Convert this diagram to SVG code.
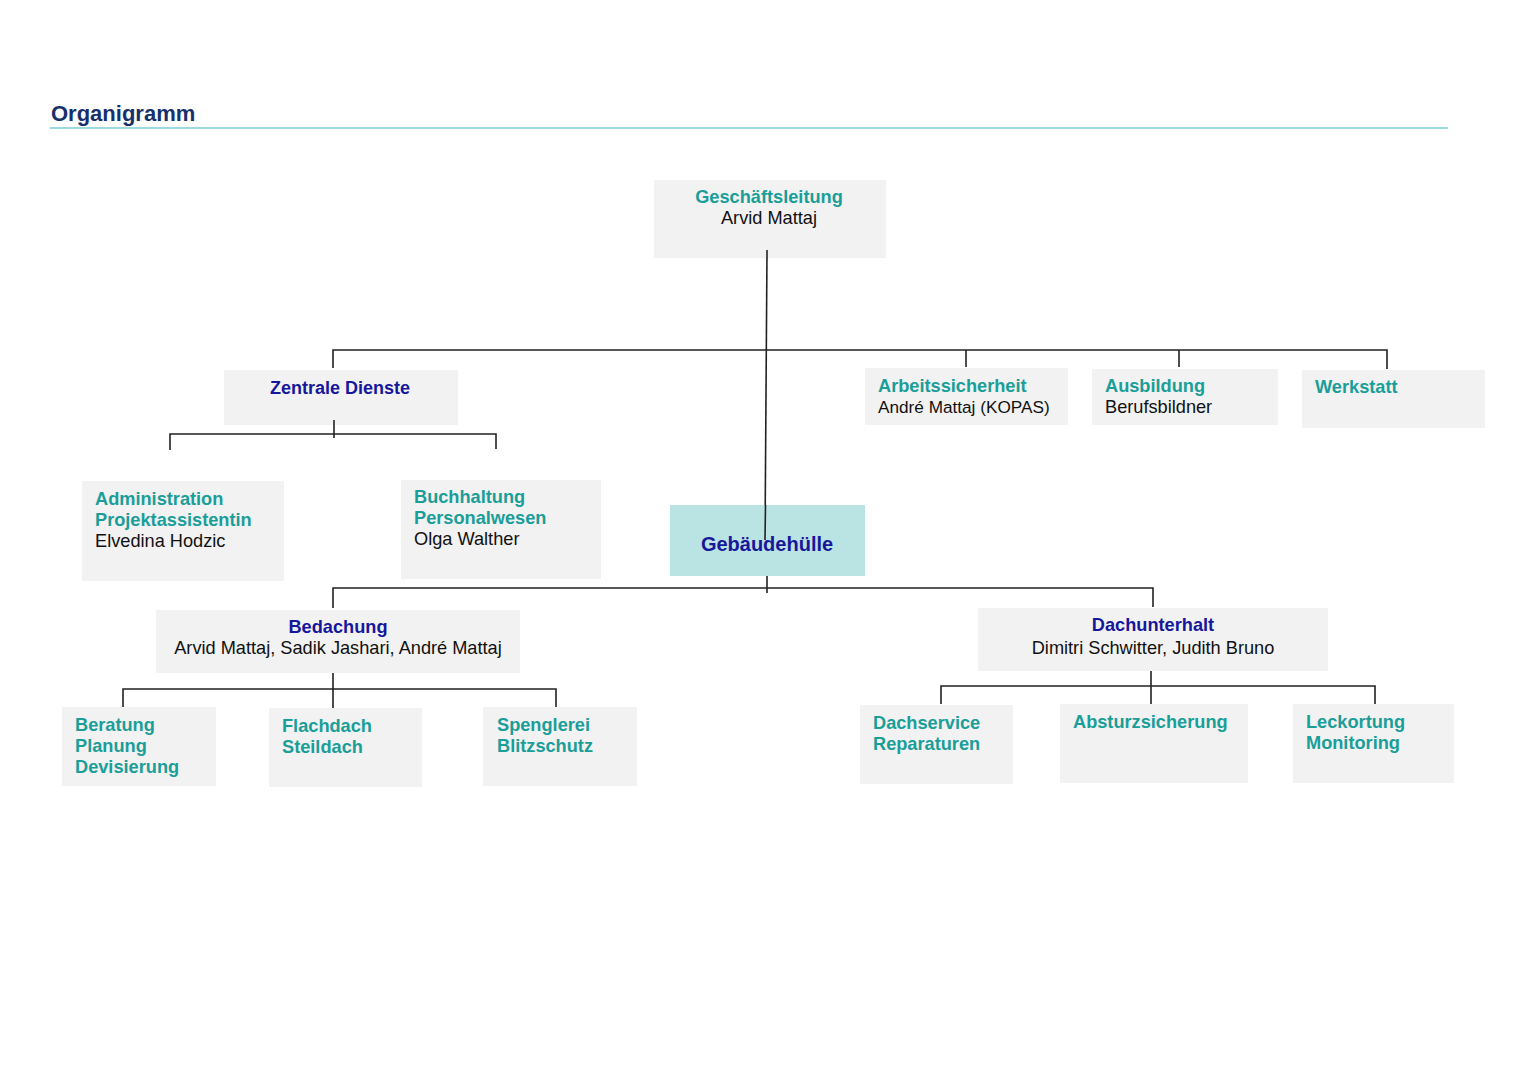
<svg xmlns="http://www.w3.org/2000/svg" width="1536" height="1085" viewBox="0 0 1536 1085">
<style>
text{font-family:"Liberation Sans",Arial,sans-serif;font-size:18.2px}
.box{fill:#f2f2f2}
.hl{fill:#bae3e3}
.t{fill:#1a9e99;font-weight:bold}
.n{fill:#17179c;font-weight:bold}
.p{fill:#111}
.c{text-anchor:middle}
.con{stroke:#222;stroke-width:1.6;fill:none}
</style>
<rect width="1536" height="1085" fill="#fff"/>
<text x="51" y="121" style="font-size:22px;font-weight:bold;fill:#17306b">Organigramm</text>
<line x1="50" y1="128" x2="1448" y2="128" stroke="#3bb3b6" stroke-width="1.2"/>

<g id="connectors" class="con">
<path d="M767 250 L765 540"/>
<path d="M333 368 V350 H1387 V369"/>
<path d="M966 350 V367 M1179 350 V367"/>
<path d="M334 420 V438 M170 450 V434 H496 V449"/>
<path d="M767 575 V593 M333 608 V588 H1153 V607"/>
<path d="M333 667 V708 M123 707 V689 H556 V707"/>
<path d="M1151 667 V705 M941 704 V686 H1375 V704"/>
</g>

<g id="geschaeftsleitung"><rect class="box" x="654" y="180" width="232" height="78"/>
<path class="con" d="M767 250 V258"/>
<text class="t c" x="769" y="203">Geschäftsleitung</text><text class="p c" x="769" y="224">Arvid Mattaj</text></g>

<g id="zentrale-dienste"><rect class="box" x="224" y="370" width="234" height="55"/>
<path class="con" d="M334 420 V425"/>
<text class="n c" x="340" y="394" style="font-size:18px">Zentrale Dienste</text></g>

<g id="arbeitssicherheit"><rect class="box" x="865" y="368" width="203" height="57"/>
<text class="t" x="878" y="392">Arbeitssicherheit</text><text class="p" x="878" y="413" style="font-size:17.2px">André Mattaj (KOPAS)</text></g>

<g id="ausbildung"><rect class="box" x="1092" y="369" width="186" height="56"/>
<text class="t" x="1105" y="392">Ausbildung</text><text class="p" x="1105" y="413">Berufsbildner</text></g>

<g id="werkstatt"><rect class="box" x="1302" y="370" width="183" height="58"/>
<text class="t" x="1315" y="393">Werkstatt</text></g>

<g id="administration"><rect class="box" x="82" y="481" width="202" height="100"/>
<text class="t" x="95" y="505">Administration</text><text class="t" x="95" y="526">Projektassistentin</text><text class="p" x="95" y="547">Elvedina Hodzic</text></g>

<g id="buchhaltung"><rect class="box" x="401" y="480" width="200" height="99"/>
<text class="t" x="414" y="503">Buchhaltung</text><text class="t" x="414" y="524">Personalwesen</text><text class="p" x="414" y="545">Olga Walther</text></g>

<g id="gebaeudehuelle"><rect class="hl" x="670" y="505" width="195" height="71"/>
<path class="con" d="M765.5 505 L765 540"/>
<text class="n c" x="767" y="551" style="font-size:20px">Gebäudehülle</text></g>

<g id="bedachung"><rect class="box" x="156" y="610" width="364" height="63"/>
<text class="n c" x="338" y="633">Bedachung</text><text class="p c" x="338" y="654">Arvid Mattaj, Sadik Jashari, André Mattaj</text></g>

<g id="dachunterhalt"><rect class="box" x="978" y="608" width="350" height="63"/>
<text class="n c" x="1153" y="631">Dachunterhalt</text><text class="p c" x="1153" y="654">Dimitri Schwitter, Judith Bruno</text></g>

<g id="beratung"><rect class="box" x="62" y="707" width="154" height="79"/>
<text class="t" x="75" y="731">Beratung</text><text class="t" x="75" y="752">Planung</text><text class="t" x="75" y="773">Devisierung</text></g>

<g id="flachdach"><rect class="box" x="269" y="708" width="153" height="79"/>
<text class="t" x="282" y="732">Flachdach</text><text class="t" x="282" y="753">Steildach</text></g>

<g id="spenglerei"><rect class="box" x="483" y="707" width="154" height="79"/>
<text class="t" x="497" y="731">Spenglerei</text><text class="t" x="497" y="752">Blitzschutz</text></g>

<g id="dachservice"><rect class="box" x="860" y="705" width="153" height="79"/>
<text class="t" x="873" y="729">Dachservice</text><text class="t" x="873" y="750">Reparaturen</text></g>

<g id="absturzsicherung"><rect class="box" x="1060" y="704" width="188" height="79"/>
<text class="t" x="1073" y="728">Absturzsicherung</text></g>

<g id="leckortung"><rect class="box" x="1293" y="704" width="161" height="79"/>
<text class="t" x="1306" y="728">Leckortung</text><text class="t" x="1306" y="749">Monitoring</text></g>
</svg>
